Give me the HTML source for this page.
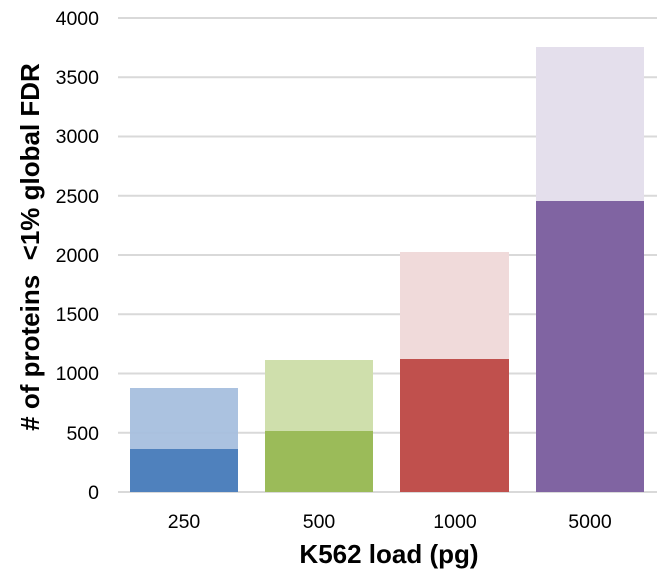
<!DOCTYPE html>
<html><head><meta charset="utf-8"><style>body{margin:0;background:#fff}svg{display:block}text{font-family:"Liberation Sans",Arial,sans-serif}</style></head>
<body>
<svg width="668" height="578" viewBox="0 0 668 578">
<g stroke="#d9d9d9" stroke-width="2">
<line x1="118" x2="657" y1="18" y2="18"/>
<line x1="118" x2="657" y1="77.25" y2="77.25"/>
<line x1="118" x2="657" y1="136.5" y2="136.5"/>
<line x1="118" x2="657" y1="195.75" y2="195.75"/>
<line x1="118" x2="657" y1="255" y2="255"/>
<line x1="118" x2="657" y1="314.25" y2="314.25"/>
<line x1="118" x2="657" y1="373.5" y2="373.5"/>
<line x1="118" x2="657" y1="432.75" y2="432.75"/>
<line x1="118" x2="657" y1="492" y2="492"/>
</g>
<g font-size="19.5" fill="#000" text-anchor="end">
<text x="99" y="25">4000</text><text x="99" y="84">3500</text><text x="99" y="143">3000</text>
<text x="99" y="203">2500</text><text x="99" y="262">2000</text><text x="99" y="321">1500</text>
<text x="99" y="380">1000</text><text x="99" y="440">500</text><text x="99" y="499">0</text>
</g>
<rect x="130" y="388" width="108" height="104" fill="#a7bfde" opacity="0.95"/>
<rect x="130" y="449" width="108" height="43" fill="#4f81bd"/>
<rect x="265" y="360" width="108" height="132" fill="#cfdfac"/>
<rect x="265" y="431" width="108" height="61" fill="#9bbb59"/>
<rect x="400" y="252" width="109" height="240" fill="#f0dada"/>
<rect x="400" y="359" width="109" height="133" fill="#c0504d"/>
<rect x="536" y="47" width="108" height="445" fill="#e4dfec"/>
<rect x="536" y="201" width="108" height="291" fill="#8064a2"/>
<g font-size="19.5" text-anchor="middle">
<text x="184" y="528">250</text><text x="319" y="528">500</text><text x="455" y="528">1000</text><text x="590" y="528">5000</text>
</g>
<text x="389" y="563" font-size="26" font-weight="bold" text-anchor="middle">K562 load (pg)</text>
<text transform="translate(39,247) rotate(-90)" font-size="26" font-weight="bold" text-anchor="middle" xml:space="preserve"># of proteins  &lt;1% global FDR</text>
</svg>
</body></html>
